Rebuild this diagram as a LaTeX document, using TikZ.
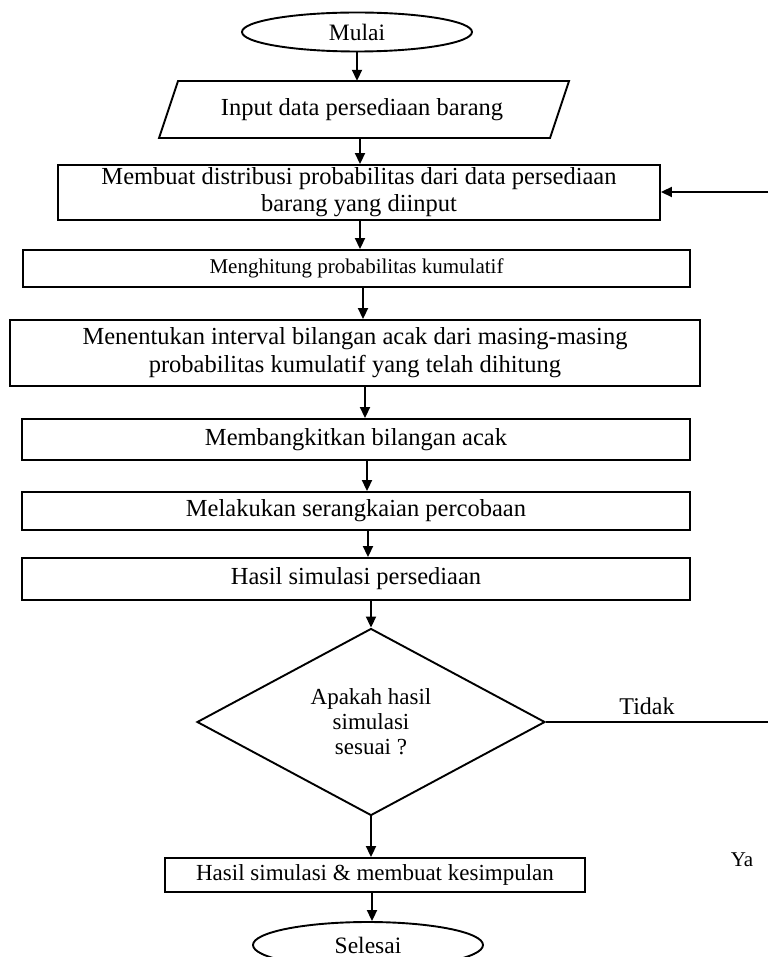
\documentclass[tikz,border=0pt]{standalone}
\usepackage{fontspec}
\setmainfont{Liberation Serif}
\usetikzlibrary{shapes.geometric,arrows.meta}
\begin{document}
\begin{tikzpicture}[x=1pt,y=-1pt,
  every node/.style={font=\fontsize{24.5}{27}\selectfont},
  box/.style={draw,line width=1.9pt,rectangle,inner sep=0pt,align=center},
  term/.style={draw,line width=1.9pt,ellipse,inner sep=0pt,minimum width=230pt,font=\fontsize{23.5}{26}\selectfont},
  dec/.style={draw,line width=1.9pt,diamond,inner sep=0pt,align=center,minimum width=348pt,minimum height=183pt,font=\fontsize{23}{25}\selectfont},
  arr/.style={-{Triangle[length=11pt,width=10pt]},line width=1.9pt},
  lin/.style={line width=1.9pt}
]
\useasboundingbox (0,0) rectangle (768,957);
\clip (0,0) rectangle (768,957);
\fill[white] (0,0) rectangle (768,957);

\node[term,minimum height=39pt] (start) at (357,32) {Mulai};

\node[inner sep=0pt,minimum width=391pt,minimum height=57pt] (input) at (362,109.5) {Input data persediaan barang};
\draw[lin] (178,81) -- (569,81) -- (550,138) -- (159,138) -- cycle;

\node[box,minimum width=602pt,minimum height=55pt] (s1) at (359,192.5) {Membuat distribusi probabilitas dari data persediaan\\barang yang diinput};
\node[box,minimum width=667pt,minimum height=37pt,font=\fontsize{21}{24}\selectfont] (s2) at (356.5,268.5) {Menghitung probabilitas kumulatif};
\node[box,minimum width=690pt,minimum height=66pt,font=\fontsize{24.5}{28}\selectfont] (s3) at (355,353) {Menentukan interval bilangan acak dari masing-masing\\probabilitas kumulatif yang telah dihitung};
\node[box,minimum width=668pt,minimum height=41pt] (s4) at (356,439.5) {Membangkitkan bilangan acak};
\node[box,minimum width=668pt,minimum height=38pt] (s5) at (356,511) {Melakukan serangkaian percobaan};
\node[box,minimum width=668pt,minimum height=42pt] (s6) at (356,579) {Hasil simulasi persediaan};
\node[dec] (d) at (371,722) {Apakah hasil\\simulasi\\sesuai ?};
\node[box,minimum width=420pt,minimum height=34pt,font=\fontsize{23}{26}\selectfont] (s7) at (375,875) {Hasil simulasi \& membuat kesimpulan};
\node[term,minimum height=46pt] (end) at (368,945) {Selesai};

\node[font=\fontsize{24}{26}\selectfont] (tidak) at (647,706) {Tidak};
\node[font=\fontsize{21}{24}\selectfont] (ya) at (742,860) {Ya};

\coordinate (rtop) at (768,192);
\coordinate (rbot) at (768,722);

\draw[arr] (start.south) -- (input.north -| start.south);
\draw[arr] (input.south -| 360,0) -- (s1.north -| 360,0);
\draw[arr] (s1.south -| 360,0) -- (s2.north -| 360,0);
\draw[arr] (s2.south -| 363,0) -- (s3.north -| 363,0);
\draw[arr] (s3.south -| 365,0) -- (s4.north -| 365,0);
\draw[arr] (s4.south -| 367,0) -- (s5.north -| 367,0);
\draw[arr] (s5.south -| 368,0) -- (s6.north -| 368,0);
\draw[arr] (s6.south -| d.north) -- (d.north);
\draw[arr] (d.south) -- (s7.north -| d.south);
\draw[arr] (s7.south -| 372,0) -- (end.north -| 372,0);
\draw[lin] (d.east) -- (rbot);
\draw[arr] (rtop) -- (s1.east |- rtop);
\end{tikzpicture}
\end{document}
